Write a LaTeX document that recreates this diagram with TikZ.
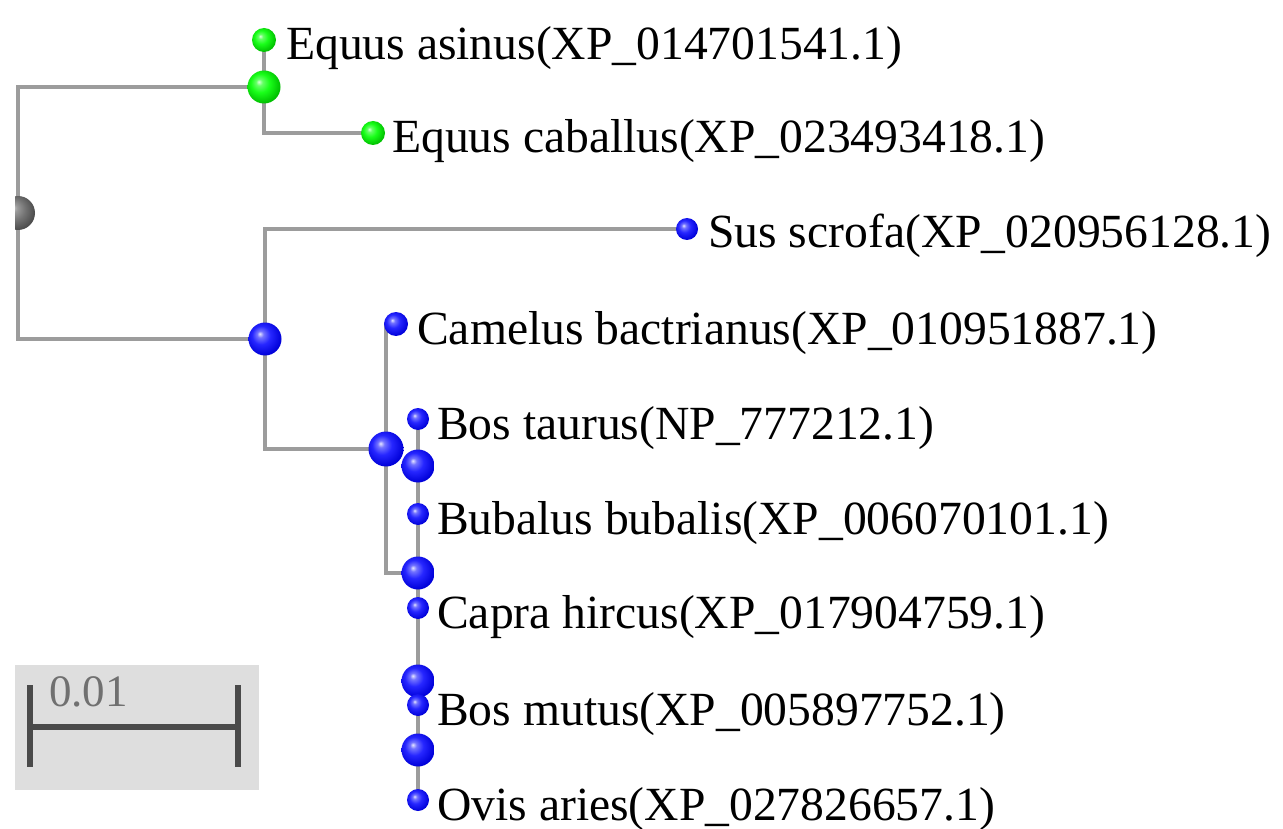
\documentclass[tikz,border=0pt]{standalone}
\usepackage{fontspec}
\setmainfont{Liberation Serif}
\pgfdeclareradialshading{blueball}{\pgfpoint{-8bp}{8bp}}{color(0bp)=(blue!10!white); color(5bp)=(blue!55!white); color(14bp)=(blue!85!white); color(28bp)=(blue!85!black); color(50bp)=(blue!60!black)}
\pgfdeclareradialshading{greenball}{\pgfpoint{-8bp}{8bp}}{color(0bp)=(green!15!white); color(5bp)=(green!60!white); color(14bp)=(green!90!white); color(28bp)=(green!75!black); color(50bp)=(green!55!black)}
\pgfdeclareradialshading{grayball}{\pgfpoint{-8bp}{8bp}}{color(0bp)=(gray!40!white); color(6bp)=(gray!80!white); color(16bp)=(gray!90!black); color(28bp)=(black!70); color(50bp)=(black!70)}
\definecolor{branch}{HTML}{9C9C9C}
\definecolor{barfill}{HTML}{DEDEDE}
\definecolor{bardark}{HTML}{4A4A4A}
\definecolor{bartext}{HTML}{707070}
\begin{document}
\begin{tikzpicture}[x=1pt,y=-1pt,
  leaf/.style={circle,inner sep=0pt,minimum size=24pt},
  inner/.style={circle,inner sep=0pt,minimum size=33pt},
  bl/.style={shading=blueball},
  gr/.style={shading=greenball},
  gy/.style={shading=grayball},
  edge/.style={draw=branch,line width=4pt},
  lab/.style={anchor=base west,inner sep=0pt,font=\fontsize{47.6}{57}\selectfont,text=black}]
\useasboundingbox (0,0) rectangle (1283,829);
% node positions
\coordinate (root) at (18,213);
\coordinate (horse) at (264,87);
\coordinate (easinus) at (264,40);
\coordinate (ecab) at (373,133);
\coordinate (nA) at (265,339);
\coordinate (sus) at (687,229);
\coordinate (nB) at (386,449);
\coordinate (cam) at (396,324);
\coordinate (btau) at (418,419);
\coordinate (nD) at (418,466);
\coordinate (bub) at (418,514);
\coordinate (nC) at (418,573);
\coordinate (cap) at (418,608);
\coordinate (nE) at (418,681);
\coordinate (bmut) at (418,705);
\coordinate (nF) at (418,750);
\coordinate (ovis) at (418,800);
% branches
\draw[edge] (horse) -| (root) |- (nA);
\draw[edge] (easinus) -- (horse) |- (ecab);
\draw[edge] (sus) -| (nA) |- (nB);
\draw[edge] (cam) -| (nB) |- (nC);
\draw[edge] (btau) -- (ovis);
% balls
\begin{scope}
\clip (15,150) rectangle (60,280);
\node[inner,minimum size=34pt,gy] (rootball) at (root) {};
\end{scope}
\node[inner,gr] (horseball) at (horse) {};
\node[leaf,gr] (easinusball) at (easinus) {};
\node[leaf,gr] (ecabball) at (ecab) {};
\node[inner,bl] (nAball) at (nA) {};
\node[leaf,minimum size=22pt,bl] (susball) at (sus) {};
\node[inner,minimum size=35pt,bl] (nBball) at (nB) {};
\node[leaf,bl] (camball) at (cam) {};
\node[leaf,minimum size=22pt,bl] (btauball) at (btau) {};
\node[inner,bl] (nDball) at (nD) {};
\node[leaf,minimum size=22pt,bl] (bubball) at (bub) {};
\node[inner,bl] (nCball) at (nC) {};
\node[leaf,minimum size=22pt,bl] (capball) at (cap) {};
\node[inner,bl] (nEball) at (nE) {};
\node[leaf,minimum size=22pt,bl] (bmutball) at (bmut) {};
\node[inner,bl] (nFball) at (nF) {};
\node[leaf,minimum size=22pt,bl] (ovisball) at (ovis) {};
% labels
\node[lab] (t1) at ([xshift=22pt,yshift=-20pt]easinus) {Equus asinus(XP\_014701541.1)};
\node[lab] (t2) at ([xshift=19pt,yshift=-20pt]ecab) {Equus caballus(XP\_023493418.1)};
\node[lab] (t3) at ([xshift=21pt,yshift=-19pt]sus) {Sus scrofa(XP\_020956128.1)};
\node[lab] (t4) at ([xshift=21pt,yshift=-20pt]cam) {Camelus bactrianus(XP\_010951887.1)};
\node[lab] (t5) at ([xshift=19pt,yshift=-20pt]btau) {Bos taurus(NP\_777212.1)};
\node[lab] (t6) at ([xshift=19pt,yshift=-20pt]bub) {Bubalus bubalis(XP\_006070101.1)};
\node[lab] (t7) at ([xshift=19pt,yshift=-20pt]cap) {Capra hircus(XP\_017904759.1)};
\node[lab] (t8) at ([xshift=19pt,yshift=-20pt]bmut) {Bos mutus(XP\_005897752.1)};
\node[lab] (t9) at ([xshift=19pt,yshift=-20pt]ovis) {Ovis aries(XP\_027826657.1)};
% scale bar
\fill[barfill] (15,665) rectangle (259,790);
\coordinate (sbL) at (30,727);
\coordinate (sbR) at (238,727);
\draw[bardark,line width=6.5pt] (sbL) -- (sbR);
\draw[bardark,line width=6.5pt] ([yshift=42pt]sbL) -- ([yshift=-40pt]sbL);
\draw[bardark,line width=6.5pt] ([yshift=42pt]sbR) -- ([yshift=-40pt]sbR);
\node[lab,text=bartext,font=\fontsize{45}{54}\selectfont] (sbt) at (49,706) {0.01};
\end{tikzpicture}
\end{document}
